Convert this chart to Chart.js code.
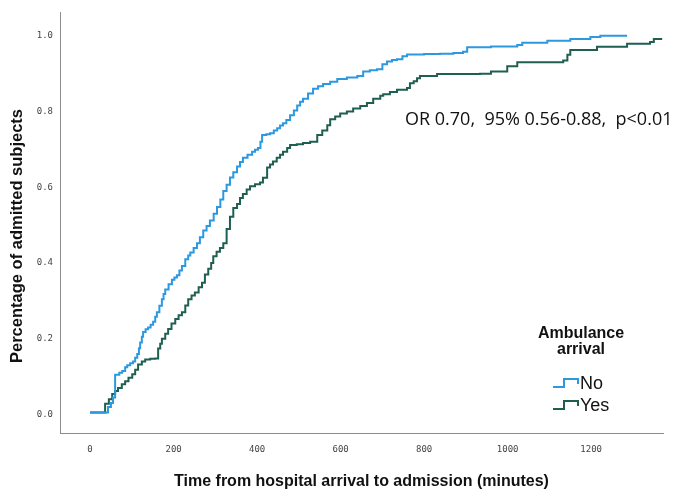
<!DOCTYPE html>
<html>
<head>
<meta charset="utf-8">
<script src="https://cdn.jsdelivr.net/npm/chart.js@4.4.1/dist/chart.umd.min.js"></script>
<style>
  html, body { margin: 0; padding: 0; background: #fff; }
  #wrap { width: 676px; height: 496px; }
</style>
</head>
<body>
<div id="wrap"><canvas id="kmChart" width="676" height="496"></canvas></div>
<script>
// cumulative admission curves (minutes, proportion)
const seriesLabels = ["No", "Yes"];
const legendTitle = ["Ambulance", "arrival"];
const yTitle = "Percentage of admitted subjects";
const annotationText = "OR 0.70,  95% 0.56-0.88,  p<0.01";
const xTicks = [0, 200, 400, 600, 800, 1000, 1200];
const yTicks = [0.0, 0.2, 0.4, 0.6, 0.8, 1.0];

const noTimes = [0, 31, 43, 50, 55, 60, 70, 77, 84, 89, 96, 103, 108, 113, 117, 120, 124, 127, 133, 139,
  145, 151, 156, 160, 166, 172, 176, 180, 188, 196, 202, 208, 214, 220, 228, 235, 240, 248, 256, 263,
  271, 279, 287, 296, 304, 312, 319, 327, 335, 343, 352, 359, 366, 377, 388, 395, 402, 408, 412, 422,
  431, 440, 448, 455, 462, 470, 479, 488, 496, 503, 510, 522, 534, 546, 558, 575, 592, 615, 640, 654,
  670, 687, 700, 711, 723, 735, 748, 759, 800, 838, 870, 893, 903, 960, 1023, 1035, 1095, 1150, 1198, 1222, 1286];
const noValues = [0.005, 0.005, 0.02, 0.03, 0.045, 0.105, 0.11, 0.115, 0.125, 0.13, 0.135, 0.14, 0.15, 0.16, 0.175, 0.19, 0.205, 0.218, 0.225, 0.23,
  0.237, 0.245, 0.258, 0.27, 0.287, 0.304, 0.318, 0.33, 0.344, 0.356, 0.362, 0.368, 0.38, 0.392, 0.41, 0.42, 0.428, 0.44, 0.452, 0.468,
  0.486, 0.498, 0.512, 0.53, 0.548, 0.568, 0.59, 0.607, 0.626, 0.64, 0.655, 0.667, 0.678, 0.686, 0.694, 0.699, 0.704, 0.72, 0.738, 0.74,
  0.743, 0.75, 0.756, 0.763, 0.769, 0.778, 0.79, 0.803, 0.816, 0.826, 0.834, 0.848, 0.86, 0.867, 0.873, 0.879, 0.886, 0.89, 0.894, 0.906,
  0.909, 0.912, 0.925, 0.932, 0.936, 0.938, 0.946, 0.951, 0.952, 0.953, 0.955, 0.958, 0.97, 0.972, 0.976, 0.982, 0.987, 0.992, 0.997, 1.0, 1.0];

const yesTimes = [0, 31, 36, 45, 53, 60, 67, 76, 84, 92, 101, 108, 115, 124, 132, 144, 156, 163, 168, 172,
  180, 187, 195, 204, 212, 220, 228, 235, 243, 251, 260, 268, 275, 283, 290, 295, 303, 311, 319, 327,
  335, 343, 352, 359, 366, 375, 383, 395, 407, 414, 424, 431, 438, 447, 455, 462, 472, 479, 495, 510,
  527, 544, 556, 568, 575, 587, 599, 615, 630, 647, 663, 678, 695, 702, 718, 735, 759, 766, 775, 783,
  790, 831, 934, 960, 999, 1023, 1133, 1143, 1150, 1214, 1286, 1341, 1350, 1370];
const yesValues = [0.005, 0.005, 0.028, 0.04, 0.054, 0.062, 0.07, 0.08, 0.088, 0.097, 0.106, 0.118, 0.132, 0.14, 0.145, 0.147, 0.148, 0.174, 0.187, 0.2,
  0.213, 0.226, 0.24, 0.252, 0.262, 0.27, 0.288, 0.304, 0.314, 0.322, 0.336, 0.348, 0.37, 0.385, 0.4, 0.418, 0.43, 0.44, 0.452, 0.49,
  0.522, 0.545, 0.556, 0.572, 0.582, 0.594, 0.603, 0.608, 0.613, 0.625, 0.652, 0.66, 0.668, 0.678, 0.686, 0.694, 0.704, 0.712, 0.714, 0.717,
  0.72, 0.738, 0.75, 0.764, 0.78, 0.787, 0.795, 0.8, 0.808, 0.815, 0.823, 0.834, 0.842, 0.846, 0.852, 0.858, 0.862, 0.875, 0.88, 0.888,
  0.894, 0.899, 0.9, 0.906, 0.92, 0.93, 0.935, 0.95, 0.963, 0.971, 0.979, 0.984, 0.992, 0.992];

const colors = ["#2b98e0", "#1f5f50"];

function toPoints(ts, vs) {
    return ts.map((t, i) => ({ x: t, y: vs[i] }));
}

// annotation, y title and SPSS-style legend, drawn on the canvas
const extrasPlugin = {
    id: "extras",
    afterDraw(chart) {
        const ctx = chart.ctx;
        ctx.save();
        ctx.fillStyle = "#111";
        ctx.textBaseline = "middle";
        ctx.textAlign = "left";
        ctx.font = "18px 'Open Sans'";
        ctx.fillText(annotationText, 405, 120);

        // y title sits a bit below the plot centre in the original
        ctx.save();
        ctx.translate(17, 236);
        ctx.rotate(-Math.PI / 2);
        ctx.textAlign = "center";
        ctx.font = "bold 16.5px 'Liberation Sans'";
        ctx.fillText(yTitle, 0, 0);
        ctx.restore();

        ctx.textAlign = "center";
        ctx.font = "bold 16px 'Liberation Sans'";
        ctx.fillText(legendTitle[0], 581, 334);
        ctx.fillText(legendTitle[1], 581, 350);

        ctx.textAlign = "left";
        ctx.font = "18px 'Liberation Sans'";
        chart.data.datasets.forEach((ds, i) => {
            const y = 383 + i * 22;
            ctx.strokeStyle = ds.borderColor;
            ctx.lineWidth = 2;
            ctx.beginPath();
            ctx.moveTo(553, y + 4);
            ctx.lineTo(564, y + 4);
            ctx.lineTo(564, y - 4);
            ctx.lineTo(578, y - 4);
            ctx.lineTo(578, y + 1);
            ctx.stroke();
            ctx.fillStyle = "#111";
            ctx.fillText(ds.label, 580, y + 1);
        });
        ctx.restore();
    }
};

new Chart(document.getElementById("kmChart"), {
    type: "line",
    data: {
        datasets: [
            { label: seriesLabels[0], data: toPoints(noTimes, noValues), borderColor: colors[0], borderWidth: 2, stepped: "before", pointRadius: 0, fill: false },
            { label: seriesLabels[1], data: toPoints(yesTimes, yesValues), borderColor: colors[1], borderWidth: 2, stepped: "before", pointRadius: 0, fill: false }
        ]
    },
    options: {
        responsive: false,
        animation: false,
        layout: { padding: { top: 5, right: 13, left: 0, bottom: 0 } },
        plugins: { legend: { display: false }, tooltip: { enabled: false } },
        scales: {
            x: {
                type: "linear",
                min: -72, max: 1372,
                afterBuildTicks: s => { s.ticks = xTicks.map(v => ({ value: v })); },
                afterFit: s => { s.height = 63; },
                grid: { display: false, drawTicks: false },
                border: { display: true, color: "#8c8c8c", width: 1 },
                ticks: { padding: 11, color: "#444", font: { family: "'DejaVu Sans Mono'", size: 9 }, callback: v => String(v) },
                title: {
                    display: true, text: "Time from hospital arrival to admission (minutes)",
                    color: "#111", font: { family: "'Liberation Sans'", size: 16, weight: "bold" },
                    padding: { top: 0, bottom: 5 }
                }
            },
            y: {
                type: "linear",
                min: -0.049, max: 1.062,
                afterBuildTicks: s => { s.ticks = yTicks.map(v => ({ value: v })); },
                afterFit: s => { s.width = 60; },
                grid: { display: false, drawTicks: false },
                border: { display: true, color: "#8c8c8c", width: 1 },
                ticks: { padding: 7, color: "#444", font: { family: "'DejaVu Sans Mono'", size: 9 }, callback: v => v.toFixed(1) },
                title: { display: false }
            }
        }
    },
    plugins: [extrasPlugin]
});
</script>
</body>
</html>
